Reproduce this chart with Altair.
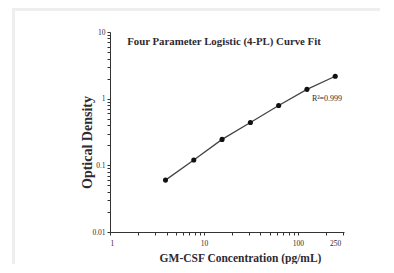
import altair as alt
import pandas as pd

# Data
conc = [3.9, 7.8, 15.6, 31.25, 62.5, 125, 250]
od = [0.060, 0.120, 0.245, 0.440, 0.790, 1.380, 2.170]

x_tick_values = [1, 2, 3, 4, 5, 6, 7, 8, 9, 10, 20, 30, 40, 50, 60, 70, 80, 90, 100, 200, 300]
x_label_values = [1, 10, 100, 250]
y_tick_values = [0.01, 0.02, 0.03, 0.04, 0.05, 0.06, 0.07, 0.08, 0.09,
                 0.1, 0.2, 0.3, 0.4, 0.5, 0.6, 0.7, 0.8, 0.9,
                 1, 2, 3, 4, 5, 6, 7, 8, 9, 10]

chart_title = "Four Parameter Logistic (4-PL) Curve Fit"
r2_text = "R²=0.999"
x_title = "GM-CSF Concentration (pg/mL)"
y_title = "Optical Density"

df = pd.DataFrame({"conc": conc, "od": od})

FONT = "Liberation Serif"
TXT = "#2e2a33"

xs = alt.Scale(type="log", domain=[1, 310], nice=False)
ys = alt.Scale(type="log", domain=[0.01, 10], nice=False)

yaxis = alt.Axis(
    values=y_tick_values,
    labelExpr="(datum.value==0.01||datum.value==0.1||datum.value==1||datum.value==10) ? format(datum.value,'~g') : ''",
    tickSize=3, tickColor="#333", domainColor="#333", grid=False,
    labelFont=FONT, labelFontSize=7.5, labelColor=TXT, labelPadding=2,
    title=y_title, titleFont=FONT, titleFontSize=14, titleFontWeight="bold", titleColor=TXT,
    titleAngle=-90, titleX=-19, titleY=110, titleAlign="center", titleBaseline="alphabetic",
)

xaxis_ticks = alt.Axis(
    values=x_tick_values, labels=False, tickSize=3, tickColor="#333", domainColor="#333",
    grid=False, orient="bottom",
    title=x_title, titleFont=FONT, titleFontSize=11.5, titleFontWeight="bold", titleColor=TXT,
    titleX=130, titleY=29, titleAlign="center", titleBaseline="alphabetic",
)

xaxis_labels = alt.Axis(
    values=x_label_values, format="~g", tickSize=0, domain=False, grid=False, orient="bottom",
    labelFont=FONT, labelFontSize=7.5, labelColor=TXT, labelPadding=7, title=None,
)

line = alt.Chart(df).mark_line(color="#444444", strokeWidth=1.3).encode(
    x=alt.X("conc:Q", scale=xs, axis=xaxis_ticks),
    y=alt.Y("od:Q", scale=ys, axis=yaxis),
)

points = alt.Chart(df).mark_circle(color="#111111", size=26, opacity=1).encode(
    x=alt.X("conc:Q", scale=xs, axis=xaxis_labels),
    y=alt.Y("od:Q", scale=ys),
)

title_txt = alt.Chart(pd.DataFrame({"t": [chart_title]})).mark_text(
    font=FONT, fontSize=10.8, fontWeight="bold", color=TXT, align="center", baseline="middle"
).encode(text="t:N", x=alt.value(114), y=alt.value(10))

r2_txt = alt.Chart(pd.DataFrame({"t": [r2_text]})).mark_text(
    font=FONT, fontSize=8, color=TXT, align="center", baseline="middle"
).encode(text="t:N", x=alt.value(217), y=alt.value(67))

frame_v = alt.Chart(pd.DataFrame({"a": [0]})).mark_rule(color="#eeeeee", strokeWidth=3).encode(
    x=alt.value(-96.5), y=alt.value(-24), y2=alt.value(240)
)
frame_h = alt.Chart(pd.DataFrame({"a": [0]})).mark_rule(color="#eeeeee", strokeWidth=3).encode(
    x=alt.value(-98), x2=alt.value(270), y=alt.value(-22.5)
)

chart = alt.layer(frame_v, frame_h, line, points, title_txt, r2_txt).resolve_axis(
    x="independent"
).properties(
    width=234, height=200,
    autosize=alt.AutoSizeParams(type="none"),
    padding={"left": 102, "top": 24, "right": 40, "bottom": 32},
    background="white",
).configure_view(stroke=None)

chart.save("out.html", embed_options={"renderer": "svg", "actions": False})
